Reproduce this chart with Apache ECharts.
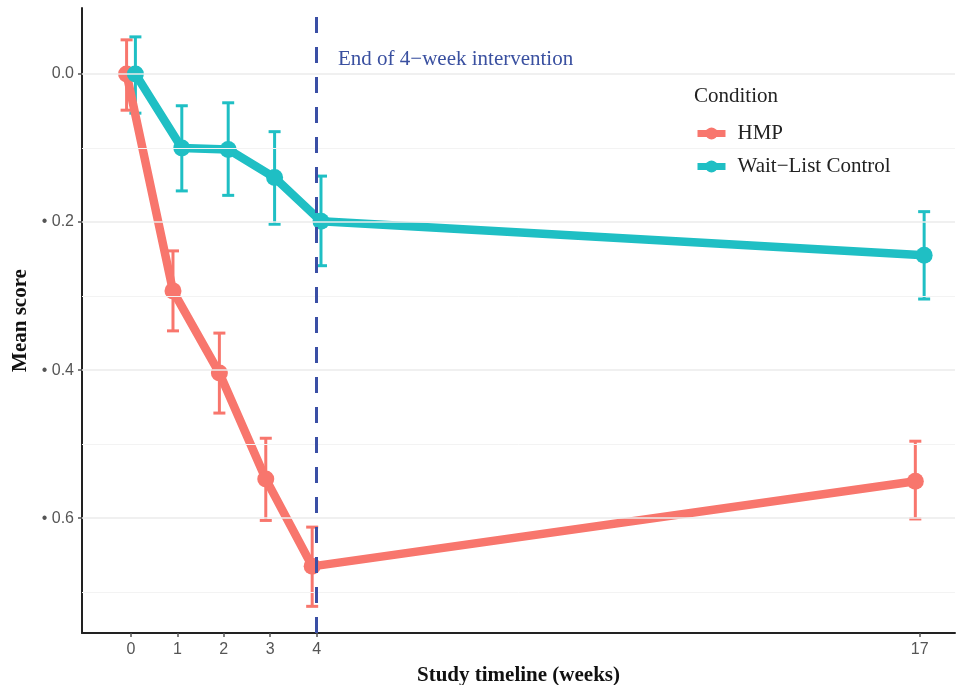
<!DOCTYPE html>
<html>
<head>
<meta charset="utf-8">
<script src="https://cdn.jsdelivr.net/npm/echarts@6/dist/echarts.min.js"></script>
<style>html,body{margin:0;padding:0;background:#fff;overflow:hidden}#c{width:957px;height:685px}</style>
</head>
<body>
<div id="c"></div>
<script>
const weeks = [0, 1, 2, 3, 4, 17];
const xTickLabels = ['0', '1', '2', '3', '4', '17'];
const yTicks = [0, -0.2, -0.4, -0.6];
const yTickLabels = ['0.0', '\u2022 0.2', '\u2022 0.4', '\u2022 0.6'];
const yMinor = [-0.1, -0.3, -0.5, -0.7];
const seriesNames = ['HMP', 'Wait\u2212List Control'];
const hmpMean = [0.0, -0.293, -0.404, -0.547, -0.665, -0.55];
const hmpLow  = [-0.049, -0.347, -0.458, -0.603, -0.719, -0.601];
const hmpHigh = [0.046, -0.239, -0.350, -0.492, -0.612, -0.496];
const wlcMean = [0.0, -0.100, -0.102, -0.140, -0.199, -0.245];
const wlcLow  = [-0.053, -0.158, -0.164, -0.203, -0.259, -0.304];
const wlcHigh = [0.050, -0.043, -0.039, -0.078, -0.138, -0.186];
const interventionEnd = 4;
const annotation = 'End of 4\u2212week intervention';
const legendTitle = 'Condition';

const colors = ['#F8766D', '#1FBFC4'];
const dodge = [-0.095, 0.095];
const serif = 'Liberation Serif';
const sans = 'Liberation Sans';

function pts(mean, d) { return weeks.map((w, i) => [w + d, mean[i]]); }
function errs(lo, hi, d) { return weeks.map((w, i) => [w + d, lo[i], hi[i]]); }

function errSeries(name, lo, hi, d, color) {
  return {
    type: 'custom', name: name, z: 2,
    data: errs(lo, hi, d),
    renderItem: function (params, api) {
      const x = api.value(0);
      const a = api.coord([x, api.value(1)]);
      const b = api.coord([x, api.value(2)]);
      const cw = 6;
      const st = { stroke: color, lineWidth: 3 };
      return { type: 'group', children: [
        { type: 'line', shape: { x1: a[0], y1: a[1], x2: b[0], y2: b[1] }, style: st },
        { type: 'line', shape: { x1: a[0] - cw, y1: a[1], x2: a[0] + cw, y2: a[1] }, style: st },
        { type: 'line', shape: { x1: b[0] - cw, y1: b[1], x2: b[0] + cw, y2: b[1] }, style: st }
      ]};
    },
    encode: { x: 0, y: [1, 2] }
  };
}

function lineSeries(name, mean, d, color) {
  return {
    type: 'line', name: name, z: 3,
    data: pts(mean, d),
    symbol: 'circle', symbolSize: 17,
    lineStyle: { color: color, width: 8.5 },
    itemStyle: { color: color },
    emphasis: { disabled: true },
    animation: false
  };
}

const gridLines = yTicks.map(v => ({ yAxis: v, lineStyle: { color: '#EBEBEB', width: 1.5, type: 'solid' } }))
  .concat(yMinor.map(v => ({ yAxis: v, lineStyle: { color: '#F3F3F3', width: 1, type: 'solid' } })));

const chart = echarts.init(document.getElementById('c'), null, { renderer: 'canvas' });
chart.setOption({
  animation: false,
  backgroundColor: '#fff',
  grid: { left: 82, right: 2, top: 8, bottom: 52, containLabel: false, outerBoundsMode: 'none' },
  xAxis: {
    type: 'value', min: -1.056, max: 17.76,
    name: 'Study timeline (weeks)', nameLocation: 'middle', nameGap: 32,
    nameTextStyle: { fontFamily: serif, fontWeight: 'bold', fontSize: 21, color: '#111' },
    axisLine: { show: true, onZero: false, lineStyle: { color: '#222', width: 2 } },
    axisTick: { show: true, customValues: weeks, length: 4, lineStyle: { color: '#555', width: 1.5 } },
    axisLabel: { customValues: weeks, formatter: v => xTickLabels[weeks.indexOf(v)] || '', fontFamily: sans, fontSize: 16, color: '#555', margin: 9 },
    splitLine: { show: false }
  },
  yAxis: {
    type: 'value', min: -0.755, max: 0.089,
    name: 'Mean score', nameLocation: 'middle', nameGap: 48, nameRotate: 90,
    nameTextStyle: { fontFamily: serif, fontWeight: 'bold', fontSize: 21, color: '#111' },
    axisLine: { show: true, onZero: false, lineStyle: { color: '#222', width: 2 } },
    axisTick: { show: true, customValues: yTicks, length: 4, lineStyle: { color: '#555', width: 1.5 } },
    axisLabel: { customValues: yTicks, formatter: v => { const i = yTicks.findIndex(t => Math.abs(t - v) < 1e-9); return i >= 0 ? yTickLabels[i] : ''; }, fontFamily: sans, fontSize: 16, color: '#555', margin: 8 },
    splitLine: { show: false }
  },
  legend: {
    orient: 'vertical', left: 688, top: 119,
    data: seriesNames,
    itemWidth: 28, itemHeight: 15, itemGap: 12,
    backgroundColor: '#fff', padding: [4, 8, 4, 6],
    lineStyle: { width: 7 },
    textStyle: { fontFamily: serif, fontSize: 21, color: '#222', padding: [0, 0, 0, 7] }
  },
  graphic: [
    { type: 'rect', left: 684, top: 78, shape: { width: 225, height: 45 }, style: { fill: '#fff' }, z: 1 },
    { type: 'text', left: 694, top: 86, style: { text: legendTitle, font: '21px "Liberation Serif"', fill: '#222' }, z: 10 },
    { type: 'text', left: 338, top: 49, style: { text: annotation, font: '21px "Liberation Serif"', fill: '#3A50A0' }, z: 10 }
  ],
  series: [
    { type: 'line', name: '_grid', data: [], silent: true, z: 0,
      markLine: { silent: true, symbol: 'none', label: { show: false }, animation: false, data: gridLines } },
    errSeries('hmp_err', hmpLow, hmpHigh, dodge[0], colors[0]),
    errSeries('wlc_err', wlcLow, wlcHigh, dodge[1], colors[1]),
    lineSeries(seriesNames[0], hmpMean, dodge[0], colors[0]),
    lineSeries(seriesNames[1], wlcMean, dodge[1], colors[1]),
    { type: 'line', name: '_vline', data: [], silent: true, z: 5,
      markLine: { silent: true, symbol: 'none', label: { show: false }, animation: false,
        data: [{ xAxis: interventionEnd, lineStyle: { color: '#3A4FA5', width: 3, type: [16, 14] } }] } }
  ]
});
</script>
</body>
</html>
